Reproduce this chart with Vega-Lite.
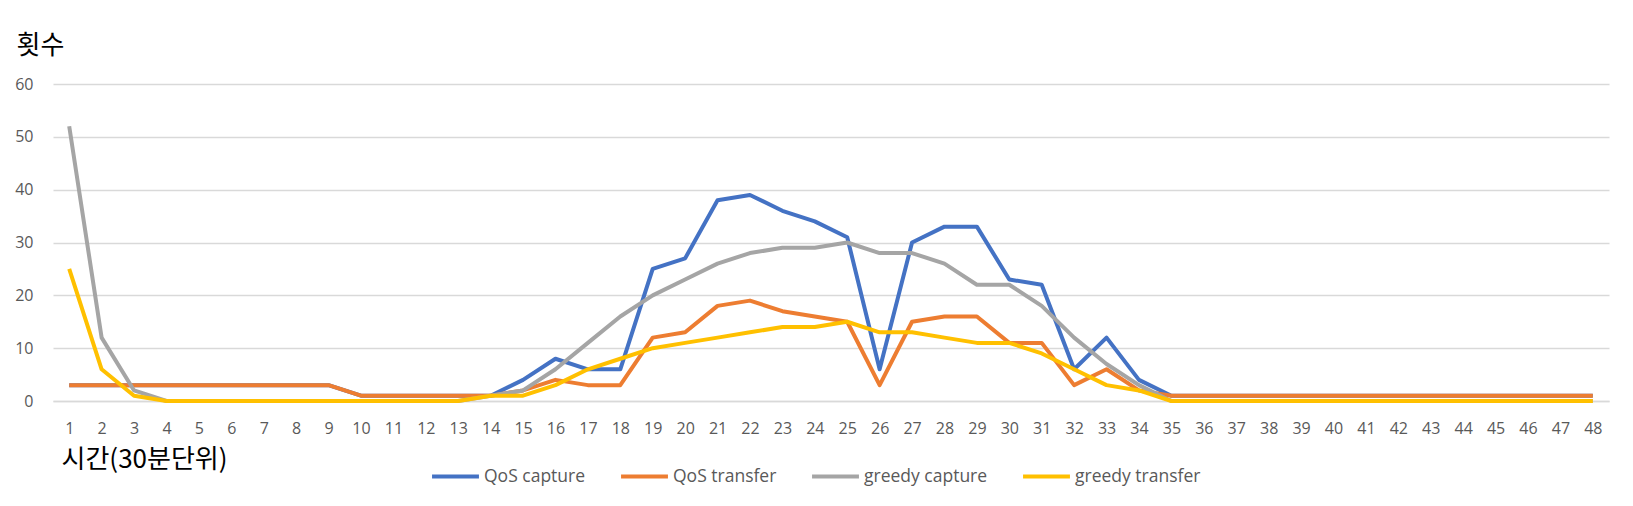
{
  "$schema": "https://vega.github.io/schema/vega-lite/v6.json",
  "width": 1556,
  "height": 317,
  "autosize": {"type": "none"},
  "padding": {"left": 53, "top": 84, "right": 24, "bottom": 105},
  "background": "white",
  "config": {"view": {"stroke": null}, "font": "Noto Sans CJK KR"},
  "data": {"values": [
    {"t": 1, "QoS capture": 3, "QoS transfer": 3, "greedy capture": 52, "greedy transfer": 25},
    {"t": 2, "QoS capture": 3, "QoS transfer": 3, "greedy capture": 12, "greedy transfer": 6},
    {"t": 3, "QoS capture": 3, "QoS transfer": 3, "greedy capture": 2, "greedy transfer": 1},
    {"t": 4, "QoS capture": 3, "QoS transfer": 3, "greedy capture": 0, "greedy transfer": 0},
    {"t": 5, "QoS capture": 3, "QoS transfer": 3, "greedy capture": 0, "greedy transfer": 0},
    {"t": 6, "QoS capture": 3, "QoS transfer": 3, "greedy capture": 0, "greedy transfer": 0},
    {"t": 7, "QoS capture": 3, "QoS transfer": 3, "greedy capture": 0, "greedy transfer": 0},
    {"t": 8, "QoS capture": 3, "QoS transfer": 3, "greedy capture": 0, "greedy transfer": 0},
    {"t": 9, "QoS capture": 3, "QoS transfer": 3, "greedy capture": 0, "greedy transfer": 0},
    {"t": 10, "QoS capture": 1, "QoS transfer": 1, "greedy capture": 0, "greedy transfer": 0},
    {"t": 11, "QoS capture": 1, "QoS transfer": 1, "greedy capture": 0, "greedy transfer": 0},
    {"t": 12, "QoS capture": 1, "QoS transfer": 1, "greedy capture": 0, "greedy transfer": 0},
    {"t": 13, "QoS capture": 1, "QoS transfer": 1, "greedy capture": 0, "greedy transfer": 0},
    {"t": 14, "QoS capture": 1, "QoS transfer": 1, "greedy capture": 1, "greedy transfer": 1},
    {"t": 15, "QoS capture": 4, "QoS transfer": 2, "greedy capture": 2, "greedy transfer": 1},
    {"t": 16, "QoS capture": 8, "QoS transfer": 4, "greedy capture": 6, "greedy transfer": 3},
    {"t": 17, "QoS capture": 6, "QoS transfer": 3, "greedy capture": 11, "greedy transfer": 6},
    {"t": 18, "QoS capture": 6, "QoS transfer": 3, "greedy capture": 16, "greedy transfer": 8},
    {"t": 19, "QoS capture": 25, "QoS transfer": 12, "greedy capture": 20, "greedy transfer": 10},
    {"t": 20, "QoS capture": 27, "QoS transfer": 13, "greedy capture": 23, "greedy transfer": 11},
    {"t": 21, "QoS capture": 38, "QoS transfer": 18, "greedy capture": 26, "greedy transfer": 12},
    {"t": 22, "QoS capture": 39, "QoS transfer": 19, "greedy capture": 28, "greedy transfer": 13},
    {"t": 23, "QoS capture": 36, "QoS transfer": 17, "greedy capture": 29, "greedy transfer": 14},
    {"t": 24, "QoS capture": 34, "QoS transfer": 16, "greedy capture": 29, "greedy transfer": 14},
    {"t": 25, "QoS capture": 31, "QoS transfer": 15, "greedy capture": 30, "greedy transfer": 15},
    {"t": 26, "QoS capture": 6, "QoS transfer": 3, "greedy capture": 28, "greedy transfer": 13},
    {"t": 27, "QoS capture": 30, "QoS transfer": 15, "greedy capture": 28, "greedy transfer": 13},
    {"t": 28, "QoS capture": 33, "QoS transfer": 16, "greedy capture": 26, "greedy transfer": 12},
    {"t": 29, "QoS capture": 33, "QoS transfer": 16, "greedy capture": 22, "greedy transfer": 11},
    {"t": 30, "QoS capture": 23, "QoS transfer": 11, "greedy capture": 22, "greedy transfer": 11},
    {"t": 31, "QoS capture": 22, "QoS transfer": 11, "greedy capture": 18, "greedy transfer": 9},
    {"t": 32, "QoS capture": 6, "QoS transfer": 3, "greedy capture": 12, "greedy transfer": 6},
    {"t": 33, "QoS capture": 12, "QoS transfer": 6, "greedy capture": 7, "greedy transfer": 3},
    {"t": 34, "QoS capture": 4, "QoS transfer": 2, "greedy capture": 3, "greedy transfer": 2},
    {"t": 35, "QoS capture": 1, "QoS transfer": 1, "greedy capture": 0, "greedy transfer": 0},
    {"t": 36, "QoS capture": 1, "QoS transfer": 1, "greedy capture": 0, "greedy transfer": 0},
    {"t": 37, "QoS capture": 1, "QoS transfer": 1, "greedy capture": 0, "greedy transfer": 0},
    {"t": 38, "QoS capture": 1, "QoS transfer": 1, "greedy capture": 0, "greedy transfer": 0},
    {"t": 39, "QoS capture": 1, "QoS transfer": 1, "greedy capture": 0, "greedy transfer": 0},
    {"t": 40, "QoS capture": 1, "QoS transfer": 1, "greedy capture": 0, "greedy transfer": 0},
    {"t": 41, "QoS capture": 1, "QoS transfer": 1, "greedy capture": 0, "greedy transfer": 0},
    {"t": 42, "QoS capture": 1, "QoS transfer": 1, "greedy capture": 0, "greedy transfer": 0},
    {"t": 43, "QoS capture": 1, "QoS transfer": 1, "greedy capture": 0, "greedy transfer": 0},
    {"t": 44, "QoS capture": 1, "QoS transfer": 1, "greedy capture": 0, "greedy transfer": 0},
    {"t": 45, "QoS capture": 1, "QoS transfer": 1, "greedy capture": 0, "greedy transfer": 0},
    {"t": 46, "QoS capture": 1, "QoS transfer": 1, "greedy capture": 0, "greedy transfer": 0},
    {"t": 47, "QoS capture": 1, "QoS transfer": 1, "greedy capture": 0, "greedy transfer": 0},
    {"t": 48, "QoS capture": 1, "QoS transfer": 1, "greedy capture": 0, "greedy transfer": 0}
  ]},
  "transform": [
    {"fold": ["QoS capture", "QoS transfer", "greedy capture", "greedy transfer"], "as": ["series", "v"]}
  ],
  "mark": {"type": "line", "strokeWidth": 4, "strokeJoin": "round"},
  "encoding": {
    "x": {
      "field": "t", "type": "ordinal",
      "scale": {"type": "point", "padding": 0.5},
      "axis": {
        "labelAngle": 0, "labelFontSize": 16, "labelColor": "#595959", "labelPadding": 19,
        "labelFont": "Open Sans",
        "ticks": false, "grid": false, "domainColor": "#D9D9D9", "domainWidth": 1.5,
        "title": "시간(30분단위)", "titleFontSize": 26, "titleFontWeight": "normal", "titleColor": "#000000",
        "titleAnchor": "start", "titleAlign": "left", "titleBaseline": "top", "titleX": 8, "titleY": 45
      }
    },
    "y": {
      "field": "v", "type": "quantitative",
      "scale": {"domain": [0, 60]},
      "axis": {
        "values": [0, 10, 20, 30, 40, 50, 60],
        "labelFontSize": 16, "labelColor": "#595959", "labelPadding": 20, "labelFont": "Open Sans",
        "ticks": false, "domain": false, "grid": true, "gridColor": "#D9D9D9", "gridWidth": 1.5,
        "title": "횟수", "titleAngle": 0, "titleFontSize": 26, "titleFontWeight": "normal", "titleColor": "#000000",
        "titleAlign": "left", "titleBaseline": "top", "titleX": -37, "titleY": -52
      }
    },
    "color": {
      "field": "series", "type": "nominal",
      "scale": {
        "domain": ["QoS capture", "QoS transfer", "greedy capture", "greedy transfer"],
        "range": ["#4472C4", "#ED7D31", "#A5A5A5", "#FFC000"]
      },
      "legend": {
        "orient": "none", "legendX": 377, "legendY": 367, "direction": "horizontal", "columns": 4,
        "title": null, "symbolType": "stroke", "symbolSize": 2200, "symbolStrokeWidth": 4,
        "labelFontSize": 17.5, "labelColor": "#595959", "labelFont": "Open Sans",
        "columnPadding": 27, "labelOffset": 3
      }
    }
  }
}
